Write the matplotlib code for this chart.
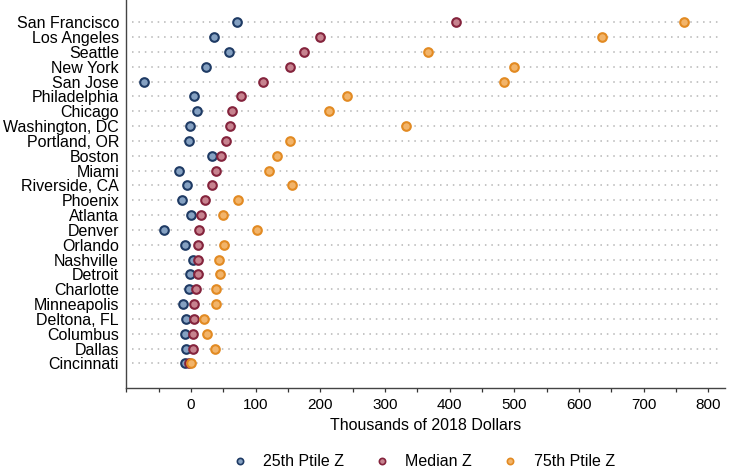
import matplotlib
matplotlib.use("Agg")
import matplotlib.pyplot as plt
from matplotlib.lines import Line2D
from matplotlib.ticker import MultipleLocator

plt.rcParams['font.family'] = ['Liberation Sans', 'DejaVu Sans']

cities = ["San Francisco", "Los Angeles", "Seattle", "New York", "San Jose",
          "Philadelphia", "Chicago", "Washington, DC", "Portland, OR", "Boston",
          "Miami", "Riverside, CA", "Phoenix", "Atlanta", "Denver", "Orlando",
          "Nashville", "Detroit", "Charlotte", "Minneapolis", "Deltona, FL",
          "Columbus", "Dallas", "Cincinnati"]

p25 = [71.6, 35.1, 58.3, 22.7, -73.2, 4.1, 9.8, -2.0, -3.1, 32.0, -19.0, -6.7,
       -14.4, 0.5, -41.2, -8.8, 2.6, -1.5, -3.6, -12.4, -7.7, -8.8, -8.2, -8.8]
median = [409.8, 199.0, 174.7, 152.6, 111.8, 76.8, 63.4, 59.8, 54.6, 46.9, 38.1,
          32.5, 22.1, 15.5, 12.9, 11.3, 10.3, 10.8, 8.2, 4.1, 4.1, 2.6, 3.1, -2.6]
p75 = [762.8, 635.5, 366.0, 499.0, 484.5, 240.7, 213.9, 333.0, 153.6, 132.5,
       121.1, 156.6, 73.2, 49.9, 102.5, 51.0, 43.3, 44.4, 38.1, 38.7, 20.6, 25.3,
       37.6, 0.5]

series_labels = ["25th Ptile Z", "Median Z", "75th Ptile Z"]
xlabel = "Thousands of 2018 Dollars"
xticks = [0, 100, 200, 300, 400, 500, 600, 700, 800]

faces = ["#85a1c2", "#c7838f", "#f2b46a"]
edges = ["#1e3a64", "#84233c", "#e28a22"]

fig = plt.figure(figsize=(7.36, 4.73), dpi=100)
ax = fig.add_axes([126/736, 1 - 388.3/473, (725 - 126)/736, 388.3/473])

ypos = list(range(len(cities)))

ax.hlines(ypos, 0.01, 0.992, transform=ax.get_yaxis_transform(),
          colors="#b5b5b5", linewidth=1.1, linestyles=(0, (1, 3.2)), zorder=1)

for vals, fc, ec, lab in zip([p25, median, p75], faces, edges, series_labels):
    ax.plot(vals, ypos, linestyle="none", marker="o", markersize=6.2,
            markerfacecolor=fc, markeredgecolor=ec, markeredgewidth=1.5,
            zorder=3, label=lab)

ax.set_xlim(-100.5, 825.7)
ax.set_ylim(24.68, -1.5)
ax.set_yticks(ypos)
ax.set_yticklabels(cities, fontsize=11.5)
ax.set_xticks(xticks)
ax.set_xticklabels([str(t) for t in xticks], fontsize=11)
ax.xaxis.set_minor_locator(MultipleLocator(50))
ax.tick_params(axis="y", length=0, pad=5)
ax.tick_params(axis="x", which="both", length=3, width=0.9, color="#333333",
               pad=4, direction="out")
ax.set_xlabel(xlabel, fontsize=11.5, labelpad=4)

for s in ["top", "right"]:
    ax.spines[s].set_visible(False)
for s in ["left", "bottom"]:
    ax.spines[s].set_color("#444444")
    ax.spines[s].set_linewidth(1.0)

handles = [Line2D([], [], linestyle="none", marker="o", markersize=4.5,
                  markerfacecolor=fc, markeredgecolor=ec, markeredgewidth=1.2)
           for fc, ec in zip(faces, edges)]
fig.legend(handles, series_labels, loc="center", bbox_to_anchor=(0.575, 0.024),
           ncol=3, frameon=False, fontsize=11.5, handlelength=1.0,
           handletextpad=0.95, columnspacing=1.9)

fig.savefig("out.png", dpi=100)
